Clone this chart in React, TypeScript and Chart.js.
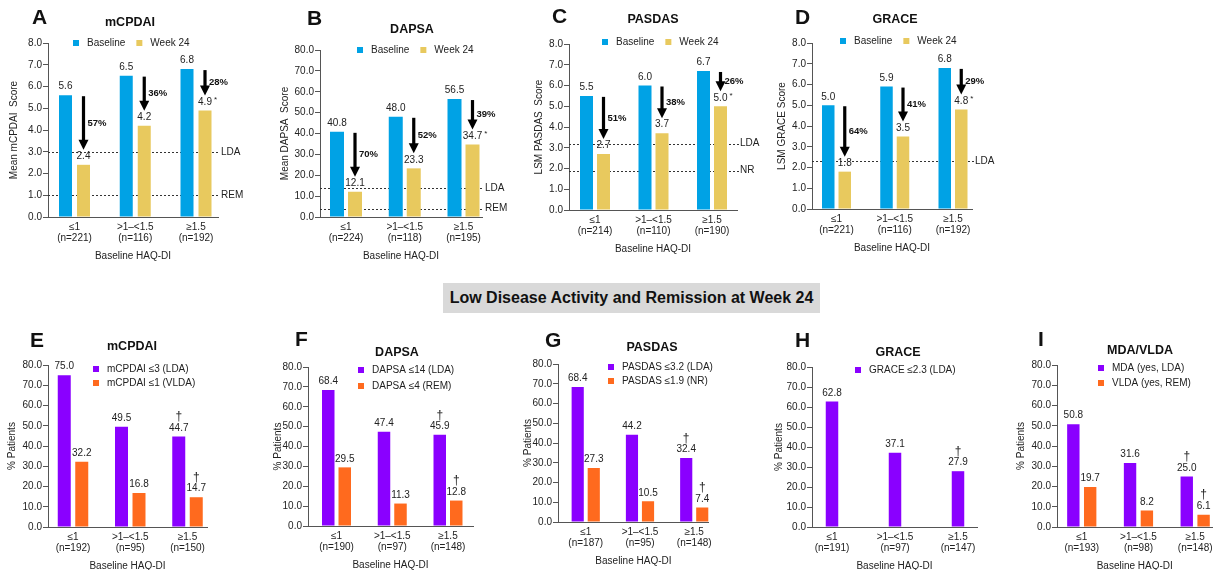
import React, { useEffect, useRef } from "react";
import { Chart, registerables } from "chart.js";

Chart.register(...registerables);

// ---------------- DATA ----------------
const haqGroups = ["≤1", ">1–<1.5", "≥1.5"];

// A – mCPDAI mean scores
const mcpdaiN = ["(n=221)", "(n=116)", "(n=192)"];
const mcpdaiBaseline = [5.6, 6.5, 6.8];
const mcpdaiWeek24 = [2.4, 4.2, 4.9];
const mcpdaiWeek24Marks = ["", "", "*"];
const mcpdaiReduction = ["57%", "36%", "28%"];
const mcpdaiRefValues = [3.0, 1.0];
const mcpdaiRefLabels = ["LDA", "REM"];

// B – DAPSA mean scores
const dapsaN = ["(n=224)", "(n=118)", "(n=195)"];
const dapsaBaseline = [40.8, 48.0, 56.5];
const dapsaWeek24 = [12.1, 23.3, 34.7];
const dapsaWeek24Marks = ["", "", "*"];
const dapsaReduction = ["70%", "52%", "39%"];
const dapsaRefValues = [14, 4];
const dapsaRefLabels = ["LDA", "REM"];

// C – PASDAS LSM scores
const pasdasN = ["(n=214)", "(n=110)", "(n=190)"];
const pasdasBaseline = [5.5, 6.0, 6.7];
const pasdasWeek24 = [2.7, 3.7, 5.0];
const pasdasWeek24Marks = ["", "", "*"];
const pasdasReduction = ["51%", "38%", "26%"];
const pasdasRefValues = [3.2, 1.9];
const pasdasRefLabels = ["LDA", "NR"];

// D – GRACE LSM scores
const graceN = ["(n=221)", "(n=116)", "(n=192)"];
const graceBaseline = [5.0, 5.9, 6.8];
const graceWeek24 = [1.8, 3.5, 4.8];
const graceWeek24Marks = ["", "", "*"];
const graceReduction = ["64%", "41%", "29%"];
const graceRefValues = [2.3];
const graceRefLabels = ["LDA"];

// E – mCPDAI % patients
const pctMcpdaiN = ["(n=192)", "(n=95)", "(n=150)"];
const pctMcpdaiLDA = [75.0, 49.5, 44.7];
const pctMcpdaiVLDA = [32.2, 16.8, 14.7];

// F – DAPSA % patients
const pctDapsaN = ["(n=190)", "(n=97)", "(n=148)"];
const pctDapsaLDA = [68.4, 47.4, 45.9];
const pctDapsaREM = [29.5, 11.3, 12.8];

// G – PASDAS % patients
const pctPasdasN = ["(n=187)", "(n=95)", "(n=148)"];
const pctPasdasLDA = [68.4, 44.2, 32.4];
const pctPasdasNR = [27.3, 10.5, 7.4];

// H – GRACE % patients
const pctGraceN = ["(n=191)", "(n=97)", "(n=147)"];
const pctGraceLDA = [62.8, 37.1, 27.9];

// I – MDA/VLDA % patients
const pctMdaN = ["(n=193)", "(n=98)", "(n=148)"];
const pctMdaLDA = [50.8, 31.6, 25.0];
const pctVldaREM = [19.7, 8.2, 6.1];

const daggerMarks = ["", "", "†"];

// ---------------- STYLE ----------------
const FONT = "'Liberation Sans', Arial, Helvetica, sans-serif";
const TEXT = "#222222";
const AXIS = "#555555";
const BLUE = "#00A2E5";
const YELLOW = "#E8C95E";
const PURPLE = "#8A00FF";
const ORANGE = "#FF6A1E";

type Series = { label: string; color: string; values: number[]; marks?: string[] };
type Geo = {
  rowTop: number; axisX: number; plotTop: number; plotBottom: number; plotRight: number;
  yTitleX: number; firstCenter: number; spacing: number; barW: number; chunk: number;
  letterX: number; letterY: number; titleX: number; titleY: number;
  legendX: number; legendY: number; legendGap?: number;
};
type PanelSpec = {
  letter: string; title: string; yTitle: string; yMax: number; yStep: number;
  nLabels: string[]; series: Series[];
  refValues?: number[]; refLabels?: string[]; reductions?: string[];
  legendRow: boolean; geo: Geo;
};

const panels: PanelSpec[] = [
  {
    letter: "A", title: "mCPDAI", yTitle: "Mean mCPDAI  Score", yMax: 8, yStep: 1, nLabels: mcpdaiN,
    series: [
      { label: "Baseline", color: BLUE, values: mcpdaiBaseline },
      { label: "Week 24", color: YELLOW, values: mcpdaiWeek24, marks: mcpdaiWeek24Marks },
    ],
    refValues: mcpdaiRefValues, refLabels: mcpdaiRefLabels, reductions: mcpdaiReduction, legendRow: true,
    geo: { rowTop: 0, axisX: 48, plotTop: 43, plotBottom: 217, plotRight: 218, yTitleX: 14, firstCenter: 74.5, spacing: 60.75, barW: 13, chunk: 18, letterX: 32, letterY: 18, titleX: 130, titleY: 23, legendX: 73, legendY: 43 },
  },
  {
    letter: "B", title: "DAPSA", yTitle: "Mean DAPSA  Score", yMax: 80, yStep: 10, nLabels: dapsaN,
    series: [
      { label: "Baseline", color: BLUE, values: dapsaBaseline },
      { label: "Week 24", color: YELLOW, values: dapsaWeek24, marks: dapsaWeek24Marks },
    ],
    refValues: dapsaRefValues, refLabels: dapsaRefLabels, reductions: dapsaReduction, legendRow: true,
    geo: { rowTop: 0, axisX: 320, plotTop: 50, plotBottom: 217, plotRight: 482, yTitleX: 285, firstCenter: 346, spacing: 58.75, barW: 14, chunk: 18, letterX: 307, letterY: 19, titleX: 412, titleY: 30, legendX: 357, legendY: 50 },
  },
  {
    letter: "C", title: "PASDAS", yTitle: "LSM PASDAS  Score", yMax: 8, yStep: 1, nLabels: pasdasN,
    series: [
      { label: "Baseline", color: BLUE, values: pasdasBaseline },
      { label: "Week 24", color: YELLOW, values: pasdasWeek24, marks: pasdasWeek24Marks },
    ],
    refValues: pasdasRefValues, refLabels: pasdasRefLabels, reductions: pasdasReduction, legendRow: true,
    geo: { rowTop: 0, axisX: 569, plotTop: 44, plotBottom: 210, plotRight: 737, yTitleX: 539, firstCenter: 595, spacing: 58.5, barW: 13, chunk: 17, letterX: 552, letterY: 17, titleX: 653, titleY: 20, legendX: 602, legendY: 42 },
  },
  {
    letter: "D", title: "GRACE", yTitle: "LSM GRACE Score", yMax: 8, yStep: 1, nLabels: graceN,
    series: [
      { label: "Baseline", color: BLUE, values: graceBaseline },
      { label: "Week 24", color: YELLOW, values: graceWeek24, marks: graceWeek24Marks },
    ],
    refValues: graceRefValues, refLabels: graceRefLabels, reductions: graceReduction, legendRow: true,
    geo: { rowTop: 0, axisX: 812, plotTop: 43, plotBottom: 209, plotRight: 972, yTitleX: 782, firstCenter: 836.5, spacing: 58.25, barW: 12.5, chunk: 16.5, letterX: 795, letterY: 18, titleX: 895, titleY: 20, legendX: 840, legendY: 41 },
  },
  {
    letter: "E", title: "mCPDAI", yTitle: "% Patients", yMax: 80, yStep: 10, nLabels: pctMcpdaiN,
    series: [
      { label: "mCPDAI ≤3 (LDA)", color: PURPLE, values: pctMcpdaiLDA, marks: daggerMarks },
      { label: "mCPDAI ≤1 (VLDA)", color: ORANGE, values: pctMcpdaiVLDA, marks: daggerMarks },
    ],
    legendRow: false,
    geo: { rowTop: 325, axisX: 48, plotTop: 365, plotBottom: 527, plotRight: 207, yTitleX: 12, firstCenter: 73, spacing: 57.25, barW: 13, chunk: 17.5, letterX: 30, letterY: 341, titleX: 132, titleY: 347, legendX: 93, legendY: 369, legendGap: 14 },
  },
  {
    letter: "F", title: "DAPSA", yTitle: "% Patients", yMax: 80, yStep: 10, nLabels: pctDapsaN,
    series: [
      { label: "DAPSA ≤14 (LDA)", color: PURPLE, values: pctDapsaLDA, marks: daggerMarks },
      { label: "DAPSA ≤4 (REM)", color: ORANGE, values: pctDapsaREM, marks: daggerMarks },
    ],
    legendRow: false,
    geo: { rowTop: 325, axisX: 308, plotTop: 367, plotBottom: 526, plotRight: 473, yTitleX: 278, firstCenter: 336.5, spacing: 55.75, barW: 12.5, chunk: 16.5, letterX: 295, letterY: 340, titleX: 397, titleY: 353, legendX: 358, legendY: 370, legendGap: 16 },
  },
  {
    letter: "G", title: "PASDAS", yTitle: "% Patients", yMax: 80, yStep: 10, nLabels: pctPasdasN,
    series: [
      { label: "PASDAS ≤3.2 (LDA)", color: PURPLE, values: pctPasdasLDA, marks: daggerMarks },
      { label: "PASDAS ≤1.9 (NR)", color: ORANGE, values: pctPasdasNR, marks: daggerMarks },
    ],
    legendRow: false,
    geo: { rowTop: 325, axisX: 558, plotTop: 364, plotBottom: 522, plotRight: 713, yTitleX: 528, firstCenter: 586.5, spacing: 55.75, barW: 12.5, chunk: 16.5, letterX: 545, letterY: 341, titleX: 652, titleY: 348, legendX: 608, legendY: 367, legendGap: 14 },
  },
  {
    letter: "H", title: "GRACE", yTitle: "% Patients", yMax: 80, yStep: 10, nLabels: pctGraceN,
    series: [
      { label: "GRACE ≤2.3 (LDA)", color: PURPLE, values: pctGraceLDA, marks: daggerMarks },
    ],
    legendRow: false,
    geo: { rowTop: 325, axisX: 812, plotTop: 367, plotBottom: 527, plotRight: 977, yTitleX: 779, firstCenter: 832, spacing: 63, barW: 12.5, chunk: 16.5, letterX: 795, letterY: 341, titleX: 898, titleY: 353, legendX: 855, legendY: 370, legendGap: 15 },
  },
  {
    letter: "I", title: "MDA/VLDA", yTitle: "% Patients", yMax: 80, yStep: 10, nLabels: pctMdaN,
    series: [
      { label: "MDA (yes, LDA)", color: PURPLE, values: pctMdaLDA, marks: daggerMarks },
      { label: "VLDA (yes, REM)", color: ORANGE, values: pctVldaREM, marks: daggerMarks },
    ],
    legendRow: false,
    geo: { rowTop: 325, axisX: 1057, plotTop: 365, plotBottom: 527, plotRight: 1214, yTitleX: 1021, firstCenter: 1082, spacing: 57.25, barW: 12.5, chunk: 17, letterX: 1038, letterY: 340, titleX: 1140, titleY: 351, legendX: 1098, legendY: 368, legendGap: 15 },
  },
];

function makeDecor(p: PanelSpec, cLeft: number, cTop: number) {
  const g = p.geo;
  return {
    id: "decor" + p.letter,
    beforeDatasetsDraw(chart: any) {
      if (!p.refValues) return;
      const { ctx, chartArea } = chart;
      const ys = chart.scales.y;
      ctx.save();
      ctx.strokeStyle = "#333";
      ctx.lineWidth = 1;
      ctx.setLineDash([2, 2]);
      p.refValues.forEach((v) => {
        const py = Math.round(ys.getPixelForValue(v)) + 0.5;
        ctx.beginPath();
        ctx.moveTo(chartArea.left, py);
        ctx.lineTo(chartArea.right + 2, py);
        ctx.stroke();
      });
      ctx.restore();
    },
    afterDraw(chart: any) {
      const { ctx, chartArea } = chart;
      const ys = chart.scales.y;
      ctx.save();
      ctx.textBaseline = "middle";

      // reference line labels
      if (p.refValues && p.refLabels) {
        ctx.font = `10px ${FONT}`;
        ctx.fillStyle = TEXT;
        ctx.textAlign = "left";
        p.refValues.forEach((v, i) => {
          ctx.fillText(p.refLabels![i], chartArea.right + 3, ys.getPixelForValue(v));
        });
      }

      // value labels
      p.series.forEach((s, si) => {
        const meta = chart.getDatasetMeta(si);
        meta.data.forEach((bar: any, i: number) => {
          const txt = s.values[i].toFixed(1);
          const ly = bar.y - 8.5;
          ctx.font = `10px ${FONT}`;
          ctx.fillStyle = TEXT;
          ctx.textAlign = "center";
          ctx.fillText(txt, bar.x, ly);
          const mark = s.marks ? s.marks[i] : "";
          if (mark === "*") {
            const w = ctx.measureText(txt).width;
            ctx.font = `8px ${FONT}`;
            ctx.textAlign = "left";
            ctx.fillText("*", bar.x + w / 2 + 2, ly - 2);
          } else if (mark === "†") {
            ctx.font = `12px ${FONT}`;
            ctx.fillText("†", bar.x, ly - 11);
          }
        });
      });

      // reduction arrows
      if (p.reductions) {
        const m0 = chart.getDatasetMeta(0);
        const m1 = chart.getDatasetMeta(1);
        p.reductions.forEach((pct, i) => {
          const b0: any = m0.data[i];
          const b1: any = m1.data[i];
          const x = b1.x;
          const yTop = b0.y + 1;
          const yTip = b1.y - 15;
          ctx.fillStyle = "#000";
          ctx.fillRect(x - 1.6, yTop, 3.2, yTip - 9 - yTop);
          ctx.beginPath();
          ctx.moveTo(x - 5, yTip - 10);
          ctx.lineTo(x + 5, yTip - 10);
          ctx.lineTo(x, yTip);
          ctx.closePath();
          ctx.fill();
          ctx.font = `bold 9.5px ${FONT}`;
          ctx.fillStyle = "#111";
          ctx.textAlign = "left";
          ctx.fillText(pct, x + 4, (yTop + yTip) / 2);
        });
      }

      // panel letter and title
      ctx.fillStyle = "#111";
      ctx.textAlign = "left";
      ctx.font = `bold 21px ${FONT}`;
      ctx.fillText(p.letter, g.letterX - cLeft, g.letterY - cTop);
      ctx.textAlign = "center";
      ctx.font = `bold 12.5px ${FONT}`;
      ctx.fillText(p.title, g.titleX - cLeft, g.titleY - cTop);

      // legend
      ctx.font = `10px ${FONT}`;
      let lx = g.legendX - cLeft;
      let ly = g.legendY - cTop;
      p.series.forEach((s) => {
        ctx.fillStyle = s.color;
        ctx.fillRect(lx, ly - 3, 6, 6);
        ctx.fillStyle = TEXT;
        ctx.textAlign = "left";
        ctx.fillText(s.label, lx + 14, ly);
        if (p.legendRow) {
          lx += 14 + ctx.measureText(s.label).width + 11;
        } else {
          ly += g.legendGap || 14;
        }
      });
      ctx.restore();
    },
  };
}

function PanelChart({ p }: { p: PanelSpec }) {
  const ref = useRef<HTMLCanvasElement>(null);
  const g = p.geo;
  const cLeft = g.yTitleX - 10;
  const cTop = g.rowTop;
  const cRight = g.plotRight + (p.refValues ? 30 : 4);
  const cBottom = g.plotBottom + 45;
  const W = Math.round(cRight - cLeft);
  const H = Math.round(cBottom - cTop);

  useEffect(() => {
    const xmin = -(g.firstCenter - g.axisX) / g.spacing;
    const xmax = (g.plotRight - g.firstCenter) / g.spacing;
    const nSeries = p.series.length;
    const catPct = (nSeries * g.chunk) / g.spacing;
    const barPct = g.barW / g.chunk;
    const chart = new Chart(ref.current as HTMLCanvasElement, {
      type: "bar",
      data: {
        datasets: p.series.map((s) => ({
          label: s.label,
          data: s.values.map((v, i) => ({ x: i, y: v })),
          backgroundColor: s.color,
          borderWidth: 0,
          categoryPercentage: catPct,
          barPercentage: barPct,
        })),
      },
      options: {
        responsive: false,
        animation: false,
        devicePixelRatio: 1,
        events: [],
        layout: { padding: { left: 0, top: g.plotTop - cTop, right: cRight - g.plotRight, bottom: 0 } },
        plugins: { legend: { display: false }, title: { display: false }, tooltip: { enabled: false } },
        scales: {
          x: {
            type: "linear",
            min: xmin,
            max: xmax,
            offset: false,
            grid: { display: false, drawTicks: false },
            border: { display: true, color: AXIS, width: 1 },
            afterBuildTicks: (ax: any) => {
              ax.ticks = haqGroups.map((_, i) => ({ value: i }));
            },
            afterFit: (ax: any) => {
              ax.height = 45;
            },
            ticks: {
              autoSkip: false,
              maxRotation: 0,
              minRotation: 0,
              padding: 5,
              color: TEXT,
              font: { family: FONT, size: 10, lineHeight: 1.1 },
              callback: (v: any) => [haqGroups[Math.round(v)], p.nLabels[Math.round(v)]],
            },
            title: {
              display: true,
              text: "Baseline HAQ-DI",
              color: TEXT,
              font: { family: FONT, size: 10, lineHeight: 1.2 },
              padding: 0,
            },
          },
          y: {
            min: 0,
            max: p.yMax,
            afterFit: (ax: any) => {
              ax.width = g.axisX - cLeft;
            },
            grid: { display: true, drawOnChartArea: false, drawTicks: true, tickLength: 5, color: AXIS },
            border: { display: true, color: AXIS, width: 1 },
            ticks: {
              stepSize: p.yStep,
              padding: 1,
              color: TEXT,
              font: { family: FONT, size: 10 },
              callback: (v: any) => Number(v).toFixed(1),
            },
            title: {
              display: true,
              text: p.yTitle,
              color: TEXT,
              font: { family: FONT, size: 10, lineHeight: 1.2 },
              padding: { top: 4, bottom: 0 },
            },
          },
        },
      } as any,
      plugins: [makeDecor(p, cLeft, cTop)],
    });
    return () => chart.destroy();
  }, []);

  return (
    <canvas
      ref={ref}
      width={W}
      height={H}
      style={{ position: "absolute", left: cLeft, top: cTop, width: W, height: H }}
    />
  );
}

export default function App() {
  return (
    <div
      style={{
        position: "fixed",
        left: 0,
        top: 0,
        width: 1216,
        height: 570,
        background: "#ffffff",
        overflow: "hidden",
      }}
    >
      {panels.map((p) => (
        <PanelChart key={p.letter} p={p} />
      ))}
      <div
        style={{
          position: "absolute",
          left: 443,
          top: 283,
          width: 377,
          height: 30,
          background: "#d9d9d9",
          display: "flex",
          alignItems: "center",
          justifyContent: "center",
          fontFamily: FONT,
          fontWeight: "bold",
          fontSize: 16,
          color: "#111",
          whiteSpace: "nowrap",
        }}
      >
        Low Disease Activity and Remission at Week 24
      </div>
    </div>
  );
}
